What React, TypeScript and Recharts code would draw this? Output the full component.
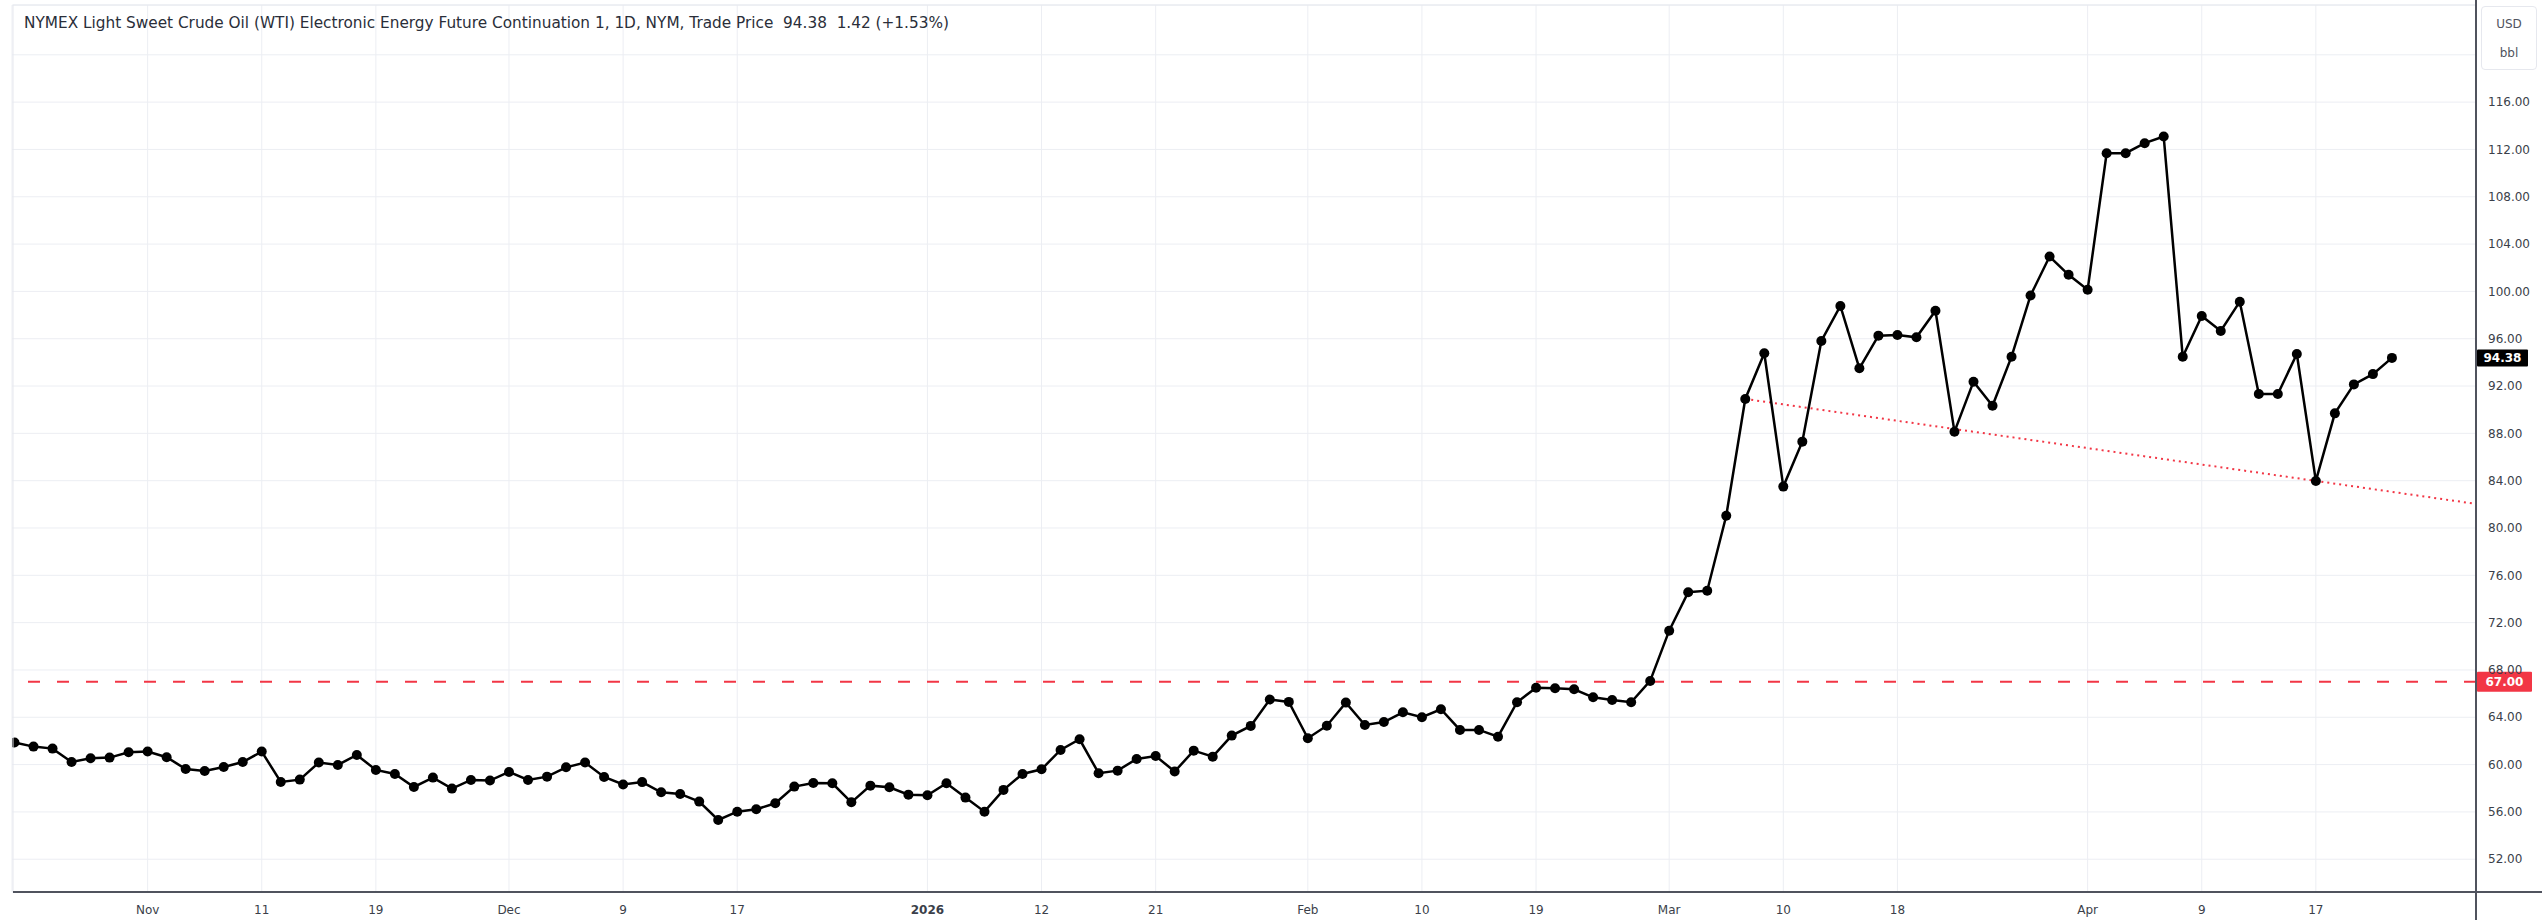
import React from 'react';
import { LineChart, Line, XAxis, YAxis, CartesianGrid, ReferenceLine } from 'recharts';

// Daily trade prices (USD/bbl), Oct 23 2025 -> Apr 23 2026, one per trading day
const prices: number[] = [
  61.86, 61.52, 61.35, 60.22, 60.53, 60.59, 61.04, 61.10, 60.62, 59.63,
  59.46, 59.80, 60.22, 61.10, 58.53, 58.73, 60.17, 59.97, 60.81, 59.55,
  59.21, 58.11, 58.90, 57.97, 58.70, 58.65, 59.38, 58.70, 58.98, 59.77,
  60.17, 58.95, 58.32, 58.52, 57.66, 57.52, 56.87, 55.32, 56.02, 56.22,
  56.73, 58.14, 58.45, 58.42, 56.81, 58.22, 58.08, 57.46, 57.41, 58.42,
  57.21, 56.02, 57.86, 59.21, 59.60, 61.24, 62.14, 59.27, 59.49, 60.48,
  60.73, 59.41, 61.18, 60.67, 62.45, 63.27, 65.50, 65.30, 62.23, 63.29,
  65.24, 63.35, 63.60, 64.42, 64.00, 64.68, 62.93, 62.93, 62.36, 65.27,
  66.50, 66.45, 66.37, 65.69, 65.46, 65.27, 67.07, 71.32, 74.57, 74.70,
  81.04, 90.91, 94.77, 83.50, 87.30, 95.81, 98.77, 93.50, 96.26, 96.32,
  96.12, 98.37, 88.14, 92.37, 90.34, 94.48, 99.66, 102.95, 101.40, 100.14,
  111.68, 111.68, 112.53, 113.09, 94.48, 97.92, 96.65, 99.13, 91.33, 91.33,
  94.71, 83.98, 89.69, 92.14, 93.01, 94.38,
];

// x-axis tick positions (bar index) and their labels
const tickIdx: number[] = [8, 14, 20, 27, 33, 39, 49, 55, 61, 69, 75, 81, 88, 94, 100, 110, 116, 122];
const tickLabels: string[] = ['Nov', '11', '19', 'Dec', '9', '17', '2026', '12', '21', 'Feb', '10', '19', 'Mar', '10', '18', 'Apr', '9', '17'];
const boldLabels: string[] = ['2026'];

// price-axis ticks
const priceTicks: number[] = [52, 56, 60, 64, 68, 72, 76, 80, 84, 88, 92, 96, 100, 104, 108, 112, 116, 120];
const hiddenPriceTicks: number[] = [120];

const lastPrice = 94.38;
const alertLevel = 67;
const trendStart = { i: 92, v: 90.91 };
const trendEnd = { i: 122, v: 83.98 };

const xDomain: [number, number] = [0.869, 130.42];
const yDomain: [number, number] = [49.23, 124.21];

const titleText = 'NYMEX Light Sweet Crude Oil (WTI) Electronic Energy Future Continuation 1, 1D, NYM, Trade Price  94.38  1.42 (+1.53%)';

const data = prices.map((p, k) => ({ i: k + 1, p }));
const trendSlope = (trendEnd.v - trendStart.v) / (trendEnd.i - trendStart.i);
const trendRight = { i: xDomain[1], v: trendEnd.v + trendSlope * (xDomain[1] - trendEnd.i) };

const FONT = '"DejaVu Sans", Verdana, sans-serif';
const AXIS_TEXT = '#3b3f4a';
const RED = '#f23645';
const GRID = '#eceef3';

const XTick = (props: any) => {
  const { x, y, payload } = props;
  const k = tickIdx.indexOf(payload.value);
  const label = k >= 0 ? tickLabels[k] : '';
  return (
    <text x={x} y={y + 22} textAnchor="middle" fontSize={12} fontFamily={FONT}
      fontWeight={boldLabels.includes(label) ? 700 : 400} fill={AXIS_TEXT}>
      {label}
    </text>
  );
};

const YTick = (props: any) => {
  const { x, y, payload } = props;
  if (hiddenPriceTicks.includes(payload.value)) return <g />;
  return (
    <text x={x + 12} y={y} dy="0.35em" textAnchor="start" fontSize={12} fontFamily={FONT} fill={AXIS_TEXT}>
      {Number(payload.value).toFixed(2)}
    </text>
  );
};

const PriceBadge = (fill: string, text: string, w: number, h: number) => (props: any) => {
  const vb = props.viewBox || {};
  const x0 = (vb.x ?? 0) + (vb.width ?? 0) + 1;
  const yc = vb.y ?? 0;
  return (
    <g>
      <rect x={x0} y={yc - h / 2} width={w} height={h} fill={fill} rx={1} />
      <text x={x0 + w / 2} y={yc} dy="0.36em" textAnchor="middle" fontSize={12} fontFamily={FONT}
        fill="#ffffff" fontWeight={700}>
        {text}
      </text>
    </g>
  );
};

export default function App() {
  return (
    <div style={{ position: 'absolute', left: 0, top: 0, width: 2542, height: 920, background: '#ffffff', overflow: 'hidden', fontFamily: FONT }}>
      <LineChart width={2542} height={920} data={data} margin={{ top: 5, right: 0, bottom: 0, left: 12 }}>
        <CartesianGrid stroke={GRID} strokeWidth={1} />
        <XAxis type="number" dataKey="i" domain={xDomain} allowDataOverflow ticks={tickIdx}
          interval={0} height={28} tickSize={0} tickMargin={0} axisLine={false} tickLine={false} tick={XTick} />
        <YAxis orientation="right" type="number" domain={yDomain} allowDataOverflow ticks={priceTicks}
          interval={0} width={66} tickSize={0} tickMargin={0} axisLine={false} tickLine={false} tick={YTick} />
        <ReferenceLine y={alertLevel} stroke={RED} strokeWidth={2} strokeDasharray="12 17"
          label={PriceBadge(RED, alertLevel.toFixed(2), 55, 20)} />
        <ReferenceLine segment={[{ x: trendStart.i, y: trendStart.v }, { x: trendRight.i, y: trendRight.v }]}
          stroke={RED} strokeWidth={2} strokeDasharray="2 4" ifOverflow="visible" />
        <Line type="linear" dataKey="p" stroke="#000000" strokeWidth={2.5} isAnimationActive={false}
          dot={{ r: 5, fill: '#000000', stroke: '#000000', strokeWidth: 0 }} activeDot={false} />
        <ReferenceLine y={lastPrice} stroke="none" strokeOpacity={0}
          label={PriceBadge('#000000', lastPrice.toFixed(2), 51, 17)} />
      </LineChart>

      <svg width={2542} height={920} style={{ position: 'absolute', left: 0, top: 0, pointerEvents: 'none' }}>
        <line x1={13} y1={5} x2={2476} y2={5} stroke="#e6e8ee" strokeWidth={1} />
        <line x1={13} y1={5} x2={13} y2={892} stroke="#e6e8ee" strokeWidth={1} />
        <line x1={13} y1={892} x2={2542} y2={892} stroke="#50535e" strokeWidth={2} />
        <line x1={2476} y1={0} x2={2476} y2={920} stroke="#50535e" strokeWidth={2} />
      </svg>

      <div style={{ position: 'absolute', left: 24, top: 15, fontSize: 15.3, lineHeight: '17px', whiteSpace: 'pre',
        color: '#2a2e39', fontFamily: '"DejaVu Sans", sans-serif' }}>
        {titleText}
      </div>

      <div style={{ position: 'absolute', left: 2481, top: 6, width: 56, height: 64, border: '1px solid #e6e8ee',
        borderRadius: 4, boxSizing: 'border-box', color: '#50535e', fontSize: 12, textAlign: 'center' }}>
        <div style={{ position: 'absolute', left: 0, right: 0, top: 10, lineHeight: '14px' }}>USD</div>
        <div style={{ position: 'absolute', left: 0, right: 0, top: 39, lineHeight: '14px' }}>bbl</div>
      </div>
    </div>
  );
}
